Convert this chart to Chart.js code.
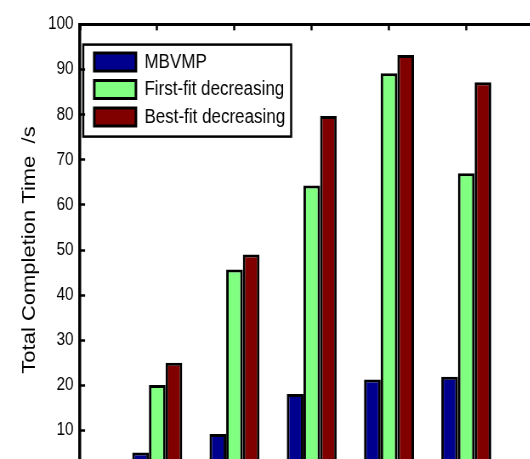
<!DOCTYPE html>
<html>
<head>
<meta charset="utf-8">
<script src="https://cdn.jsdelivr.net/npm/chart.js@4/dist/chart.umd.min.js"></script>
<style>
html, body { margin: 0; width: 530px; height: 459px; overflow: hidden; background: #fff; }
#chart { display: block; transform: scaleX(0.85); transform-origin: 0 0; }
</style>
</head>
<body>
<canvas id="chart" width="660" height="500"></canvas>
<script>
// groups along the x axis (their labels fall below the visible crop)
var groupPos = [1, 2, 3, 4, 5];
var seriesNames = ['MBVMP', 'First-fit decreasing', 'Best-fit decreasing'];
var seriesColors = ['#00008F', '#80FF80', '#800000'];
var mbvmp = [5.1, 9.2, 18.1, 21.3, 21.9];
var firstFit = [20.1, 45.7, 64.3, 89.2, 67.0];
var bestFit = [25.0, 49.0, 79.7, 93.2, 87.2];
var yMin = 0, yMax = 100, yStep = 10;
var xMin = 0, xMax = 6;

Chart.defaults.font.family = '"Liberation Sans", Arial, sans-serif';
Chart.defaults.color = '#000';

function points(vals){
	var out = [];
	for (var i = 0; i < groupPos.length; i++) {
		out.push({x: groupPos[i], y: vals[i]});
	}
	return out;
}

var allSeries = [mbvmp, firstFit, bestFit];
var datasets = [];
for (var s = 0; s < allSeries.length; s++) {
	datasets.push({
		label: seriesNames[s],
		data: points(allSeries[s]),
		backgroundColor: seriesColors[s],
		borderColor: '#000',
		borderWidth: 3,
		categoryPercentage: 0.647,
		barPercentage: 1.0
	});
}

// MATLAB style boxed legend sitting inside the axes
var legendFrame = {
	id: 'legendFrame',
	afterLayout: function(chart){
		var lg = chart.legend;
		lg.left = chart.chartArea.left + 9.3;
		lg.top = chart.chartArea.top + 20.2;
	},
	afterDraw: function(chart){
		var lg = chart.legend;
		var pad = lg.options.labels.padding;
		var col = lg.columnSizes[0];
		var ctx = chart.ctx;
		ctx.save();
		ctx.strokeStyle = '#000';
		ctx.lineWidth = 2.5;
		ctx.strokeRect(lg.left + pad - 13, lg.top, col.width + 20, col.height + pad + 2);
		ctx.restore();
	}
};

var config = {
	type: 'bar',
	data: { datasets: datasets },
	options: {
		responsive: false,
		animation: false,
		devicePixelRatio: 1,
		layout: { padding: { top: 19.5, right: 20.6, bottom: 22.5, left: 0 } },
		plugins: {
			tooltip: { enabled: false },
			legend: {
				position: 'chartArea',
				align: 'start',
				labels: {
					boxWidth: 49,
					boxHeight: 18,
					padding: 7.5,
					color: '#000',
					font: { size: 20 }
				}
			}
		},
		scales: {
			x: {
				type: 'linear',
				position: 'bottom',
				offset: false,
				min: xMin,
				max: xMax,
				ticks: { display: false, stepSize: 1 },
				grid: { display: false, offset: false },
				border: { display: false },
				afterFit: function(scale){ scale.height = 0; }
			},
			// top edge of the box, with inward ticks at each group
			x2: {
				type: 'linear',
				position: 'top',
				offset: false,
				min: xMin,
				max: xMax,
				ticks: { stepSize: 1, callback: function(){ return ''; } },
				grid: {
					offset: false,
					drawOnChartArea: false,
					drawTicks: true,
					tickLength: -6,
					tickWidth: 2.5,
					tickColor: '#000'
				},
				border: { color: '#000', width: 3 },
				afterFit: function(scale){ scale.height = 0; }
			},
			y: {
				min: yMin,
				max: yMax,
				ticks: {
					stepSize: yStep,
					padding: 13.6,
					color: '#000',
					font: { size: 18 }
				},
				grid: {
					drawOnChartArea: false,
					drawTicks: true,
					tickLength: -6,
					tickWidth: 2.5,
					tickColor: '#000'
				},
				border: { color: '#000', width: 3.5 },
				title: {
					display: true,
					text: 'Total Completion Time  /s',
					color: '#000',
					font: { size: 22 },
					padding: { top: 22.2, bottom: 0 }
				},
				afterFit: function(scale){ scale.width = 94.1; }
			}
		}
	},
	plugins: [legendFrame]
};

var ctx = document.getElementById('chart').getContext('2d');
window.myBar = new Chart(ctx, config);
</script>
</body>
</html>
